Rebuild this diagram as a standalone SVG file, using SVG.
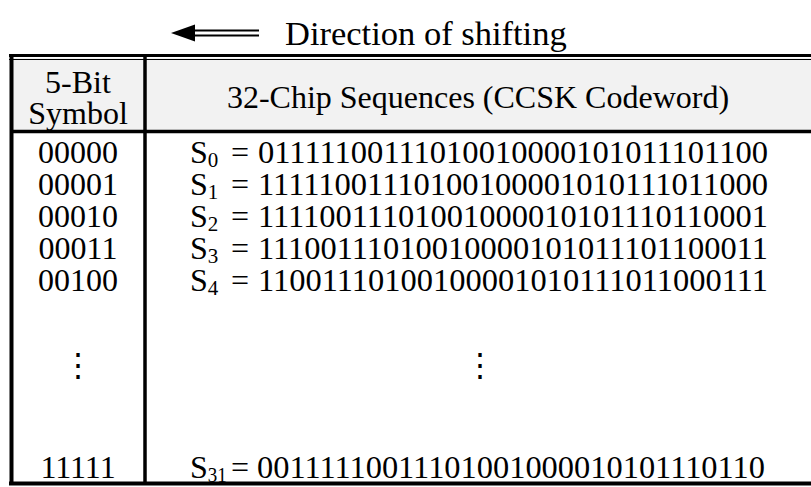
<svg xmlns="http://www.w3.org/2000/svg" width="811" height="487" viewBox="0 0 811 487">
  <style>
    .t { font-family: "Liberation Serif", "Times New Roman", serif; font-size: 32px; fill: #000; }
    .sub { font-size: 21px; }
    .mid { text-anchor: middle; }
    .rule { stroke: #000; fill: none; }
  </style>

  <rect width="811" height="487" fill="#fff"/>

  <!-- shift direction indicator -->
  <g id="shift-direction">
    <line class="rule" x1="188" y1="30.5" x2="259" y2="30.5" stroke-width="2.2"/>
    <line class="rule" x1="188" y1="35.5" x2="259" y2="35.5" stroke-width="2.2"/>
    <polygon points="171,33 195,24.5 195,41.5" fill="#000"/>
    <text class="t" x="285" y="45" style="font-size:34.5px">Direction of shifting</text>
  </g>

  <!-- table frame -->
  <g id="table-frame">
    <rect x="11" y="58" width="800" height="72" fill="#f2f2f2"/>
    <line class="rule" x1="9" y1="55.5" x2="811" y2="55.5" stroke-width="3"/>
    <line class="rule" x1="9" y1="59.5" x2="811" y2="59.5" stroke-width="1.2"/>
    <line class="rule" x1="11.5" y1="54" x2="11.5" y2="485" stroke-width="4"/>
    <line class="rule" x1="145" y1="57" x2="145" y2="485" stroke-width="3.5"/>
    <line class="rule" x1="11" y1="131.5" x2="811" y2="131.5" stroke-width="3.5"/>
    <line class="rule" x1="9" y1="483.5" x2="811" y2="483.5" stroke-width="4"/>
  </g>

  <!-- header cells -->
  <g id="header-symbol">
    <text class="t mid" x="78" y="93">5-Bit</text>
    <text class="t mid" x="78" y="124">Symbol</text>
  </g>
  <g id="header-sequence">
    <text class="t mid" x="478" y="108">32-Chip Sequences (CCSK Codeword)</text>
  </g>

  <!-- symbol column -->
  <g id="symbols">
    <text class="t mid" x="78" y="163">00000</text>
    <text class="t mid" x="78" y="195">00001</text>
    <text class="t mid" x="78" y="227">00010</text>
    <text class="t mid" x="78" y="259">00011</text>
    <text class="t mid" x="78" y="291">00100</text>
    <text class="t mid" x="78" y="376">⋮</text>
    <text class="t mid" x="78" y="478">11111</text>
  </g>

  <!-- codeword column: name, equals sign, chip string -->
  <g id="codewords">
    <text class="t" x="190" y="163">S<tspan class="sub" dy="4">0</tspan></text>
    <text class="t" x="231" y="163">=</text>
    <text class="t" x="258" y="163" textLength="510" lengthAdjust="spacingAndGlyphs">01111100111010010000101011101100</text>

    <text class="t" x="190" y="195">S<tspan class="sub" dy="4">1</tspan></text>
    <text class="t" x="231" y="195">=</text>
    <text class="t" x="258" y="195" textLength="510" lengthAdjust="spacingAndGlyphs">11111001110100100001010111011000</text>

    <text class="t" x="190" y="227">S<tspan class="sub" dy="4">2</tspan></text>
    <text class="t" x="231" y="227">=</text>
    <text class="t" x="258" y="227" textLength="510" lengthAdjust="spacingAndGlyphs">11110011101001000010101110110001</text>

    <text class="t" x="190" y="259">S<tspan class="sub" dy="4">3</tspan></text>
    <text class="t" x="231" y="259">=</text>
    <text class="t" x="258" y="259" textLength="510" lengthAdjust="spacingAndGlyphs">11100111010010000101011101100011</text>

    <text class="t" x="190" y="291">S<tspan class="sub" dy="4">4</tspan></text>
    <text class="t" x="231" y="291">=</text>
    <text class="t" x="258" y="291" textLength="510" lengthAdjust="spacingAndGlyphs">11001110100100001010111011000111</text>

    <text class="t mid" x="480" y="376">⋮</text>

    <text class="t" x="190" y="478">S<tspan class="sub" dy="4" textLength="19" lengthAdjust="spacingAndGlyphs">31</tspan></text>
    <text class="t" x="231" y="478">=</text>
    <text class="t" x="257" y="478" textLength="508" lengthAdjust="spacingAndGlyphs">00111110011101001000010101110110</text>
  </g>
</svg>
